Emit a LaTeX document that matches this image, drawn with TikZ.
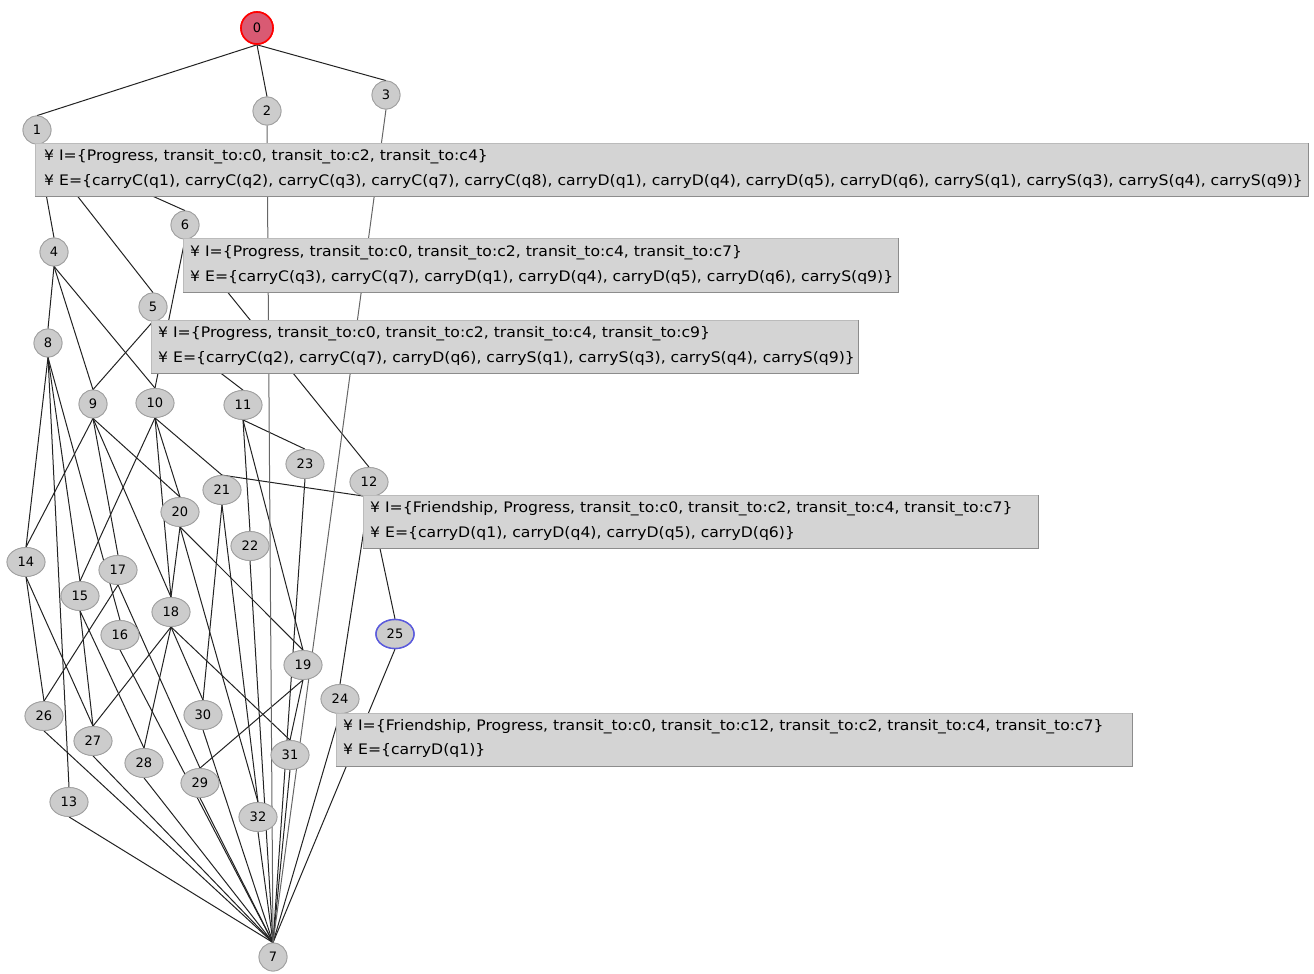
\documentclass[tikz,border=0pt]{standalone}
\usepackage{fontspec}
\setmainfont{DejaVu Sans}
\newfontfamily\boxfont[FakeStretch=1.08]{DejaVu Sans}
\usetikzlibrary{shapes.geometric}
\definecolor{nfill}{HTML}{CCCCCC}
\definecolor{nline}{HTML}{A0A0A0}
\definecolor{bfill}{HTML}{D4D4D4}
\definecolor{bline}{HTML}{BBBBBB}
\definecolor{bdark}{HTML}{8C8C8C}
\definecolor{topfill}{HTML}{D95A73}
\definecolor{edgecol}{HTML}{222222}
\definecolor{lightedge}{HTML}{666666}
\definecolor{bluering}{HTML}{5A5ADC}
\tikzset{
  cn/.style={ellipse, draw=nline, fill=nfill, line width=0.8pt, minimum width=28pt, minimum height=28pt, inner sep=0pt, font=\fontsize{13}{13}\selectfont},
  cnn/.style={cn, minimum width=38pt, minimum height=29pt},
  edge/.style={draw=edgecol, line width=1pt},
  lightline/.style={draw=lightedge, line width=1pt},
  infobox/.style={draw=bline, fill=bfill, line width=0.8pt},
  infotext/.style={anchor=west, inner sep=0pt, font=\boxfont\fontsize{14.5}{14.5}\selectfont}
}
\newcommand{\infobox}[4]{%
  \draw[infobox] (#1,#2) rectangle (#3,#4);
  \draw[bdark, line width=1pt] (#1,#4) -- (#3,#4) -- (#3,#2);
}
\begin{document}
\begin{tikzpicture}[x=1pt,y=-1pt]
\useasboundingbox (0,0) rectangle (1314,974);
% nodes (positions)
\node[cn, fill=topfill, draw=red, line width=1.6pt, minimum width=32pt, minimum height=32pt] (n0) at (257,28) {0};
\foreach \i/\x/\y in {1/37/130,2/267/111,3/386/95,4/54/252,5/153/307,6/185/225,7/273/957,8/48/343,9/93/404}
  \node[cn] (n\i) at (\x,\y) {\i};
\foreach \i/\x/\y in {10/155/403,11/243/405,12/369/482,13/69/802,14/26/562,15/80/596,16/120/635,17/118/570,18/171/612,19/303/665,20/180/512,21/222/490,22/250/546,23/305/464,24/340/699,26/44/716,27/93/741,28/144/763,29/200/783,30/203/715,31/290/755,32/258/817}
  \node[cnn] (n\i) at (\x,\y) {\i};
\node[cnn, draw=bluering, line width=1.4pt] (n25) at (395,634) {25};
% edges
\foreach \a/\b in {0/1,0/2,0/3,1/4,1/5,1/6,4/8,4/9,4/10,5/9,5/11,6/10,6/12,
8/13,8/14,8/15,8/16,9/14,9/17,9/18,9/20,10/15,10/18,10/20,10/21,11/19,11/22,11/23,
12/21,12/24,12/25,13/7,14/26,14/27,15/27,15/28,16/7,17/26,17/29,18/27,18/28,18/30,18/31,
19/29,19/31,20/18,20/19,20/32,21/30,21/32,22/7,23/7,24/7,25/7,26/7,27/7,28/7,29/7,30/7,31/7,32/7}
  \draw[edge] (n\a.south) -- (n\b.north);
\draw[lightline] (n2.south) -- (n7.north);
\draw[lightline] (n3.south) -- (n7.north);
% nodes again on top of the edges
\node[cn, fill=topfill, draw=red, line width=1.6pt, minimum width=32pt, minimum height=32pt] (m0) at (n0) {0};
\foreach \i in {1,...,9}
  \node[cn] (m\i) at (n\i) {\i};
\foreach \i in {10,...,24,26,27,28,29,30,31,32}
  \node[cnn] (m\i) at (n\i) {\i};
\node[cnn, draw=bluering, line width=1.4pt] (m25) at (n25) {25};
% info boxes
\infobox{35}{143}{1308}{196}
\node[infotext] (t1a) at (44,157) {¥ I=\{Progress, transit\_to:c0, transit\_to:c2, transit\_to:c4\}};
\node[infotext] (t1b) at (44,181) {¥ E=\{carryC(q1), carryC(q2), carryC(q3), carryC(q7), carryC(q8), carryD(q1), carryD(q4), carryD(q5), carryD(q6), carryS(q1), carryS(q3), carryS(q4), carryS(q9)\}};
\infobox{183}{238}{898}{292}
\node[infotext] (t2a) at (190,253) {¥ I=\{Progress, transit\_to:c0, transit\_to:c2, transit\_to:c4, transit\_to:c7\}};
\node[infotext] (t2b) at (190,277) {¥ E=\{carryC(q3), carryC(q7), carryD(q1), carryD(q4), carryD(q5), carryD(q6), carryS(q9)\}};
\infobox{151}{320}{858}{373}
\node[infotext] (t3a) at (158,334) {¥ I=\{Progress, transit\_to:c0, transit\_to:c2, transit\_to:c4, transit\_to:c9\}};
\node[infotext] (t3b) at (158,358) {¥ E=\{carryC(q2), carryC(q7), carryD(q6), carryS(q1), carryS(q3), carryS(q4), carryS(q9)\}};
\infobox{363}{495}{1038}{548}
\node[infotext] (t4a) at (370,509) {¥ I=\{Friendship, Progress, transit\_to:c0, transit\_to:c2, transit\_to:c4, transit\_to:c7\}};
\node[infotext] (t4b) at (370,533) {¥ E=\{carryD(q1), carryD(q4), carryD(q5), carryD(q6)\}};
\infobox{336}{713}{1132}{766}
\node[infotext] (t5a) at (343,727) {¥ I=\{Friendship, Progress, transit\_to:c0, transit\_to:c12, transit\_to:c2, transit\_to:c4, transit\_to:c7\}};
\node[infotext] (t5b) at (343,750) {¥ E=\{carryD(q1)\}};
\end{tikzpicture}
\end{document}
